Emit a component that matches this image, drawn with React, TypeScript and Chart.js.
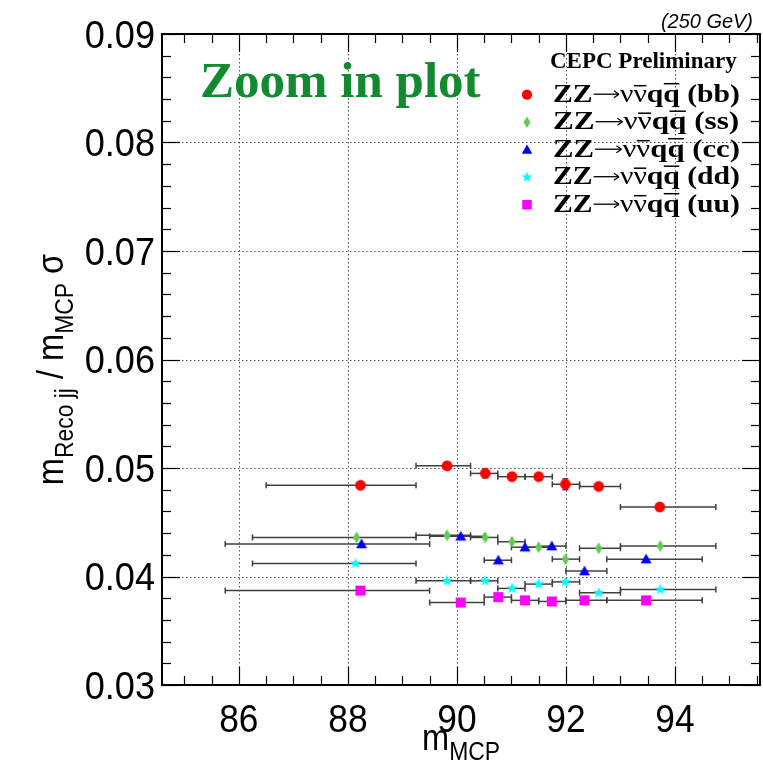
import React, { useEffect, useRef } from "react";
import { Chart, registerables } from "chart.js";

Chart.register(...registerables);

const W = 763;
const H = 764;

// ---- data ----
const bbX = [88.23, 89.82, 90.52, 91.01, 91.5, 91.99, 92.6, 93.72];
const bbY = [0.0484, 0.0502, 0.0495, 0.0492, 0.0492, 0.0485, 0.0483, 0.0464];
const bbXLo = [86.5, 89.25, 90.25, 90.75, 91.25, 91.75, 92.25, 93.0];
const bbXHi = [89.25, 90.25, 90.75, 91.25, 91.75, 92.25, 93.0, 94.75];
const bbYErr = [0.0002, 0.0002, 0.0004, 0.0002, 0.0002, 0.0005, 0.0002, 0.0002];

const ssX = [88.16, 89.82, 90.52, 91.01, 91.5, 91.99, 92.6, 93.73];
const ssY = [0.0436, 0.0438, 0.0436, 0.0432, 0.0427, 0.0416, 0.0426, 0.0428];
const ssXLo = [86.25, 89.25, 90.25, 90.75, 91.25, 91.75, 92.25, 93.0];
const ssXHi = [89.25, 90.25, 90.75, 91.25, 91.75, 92.25, 93.0, 94.75];

const ccX = [88.25, 90.07, 90.76, 91.25, 91.74, 92.34, 93.47];
const ccY = [0.043, 0.0437, 0.0415, 0.0427, 0.0428, 0.0405, 0.0416];
const ccXLo = [85.75, 89.5, 90.5, 91.0, 91.5, 92.0, 92.75];
const ccXHi = [89.5, 90.5, 91.0, 91.5, 92.0, 92.75, 94.5];

const ddX = [88.14, 89.82, 90.52, 91.01, 91.5, 91.99, 92.6, 93.73];
const ddY = [0.0412, 0.0396, 0.0396, 0.0389, 0.0393, 0.0395, 0.0385, 0.0388];
const ddXLo = [86.25, 89.25, 90.25, 90.75, 91.25, 91.75, 92.25, 93.0];
const ddXHi = [89.25, 90.25, 90.75, 91.25, 91.75, 92.25, 93.0, 94.75];

const uuX = [88.23, 90.07, 90.76, 91.25, 91.74, 92.34, 93.47];
const uuY = [0.0387, 0.0376, 0.0381, 0.0378, 0.0377, 0.0378, 0.0378];
const uuXLo = [85.75, 89.5, 90.5, 91.0, 91.5, 92.0, 92.75];
const uuXHi = [89.5, 90.5, 91.0, 91.5, 92.0, 92.75, 94.5];

const seriesTags = ["bb", "ss", "cc", "dd", "uu"];

const xMajorTicks = [86, 88, 90, 92, 94];
const xTickLabels = ["86", "88", "90", "92", "94"];
const yMajorTicks = [0.03, 0.04, 0.05, 0.06, 0.07, 0.08, 0.09];
const yTickLabels = ["0.03", "0.04", "0.05", "0.06", "0.07", "0.08", "0.09"];
const X_MIN = 84.59;
const X_MAX = 95.56;
const Y_MIN = 0.03;
const Y_MAX = 0.09;

const SANS = "'Liberation Sans', Arial, Helvetica, sans-serif";
const SERIF = "'Liberation Serif', 'Times New Roman', serif";

type Series = {
  tag: string;
  x: number[];
  y: number[];
  lo: number[];
  hi: number[];
  yErr?: number[];
  shape: string;
  color: string;
};

const series: Series[] = [
  { tag: seriesTags[0], x: bbX, y: bbY, lo: bbXLo, hi: bbXHi, yErr: bbYErr, shape: "circle", color: "#ff0000" },
  { tag: seriesTags[1], x: ssX, y: ssY, lo: ssXLo, hi: ssXHi, shape: "diamond", color: "#5fcc52" },
  { tag: seriesTags[2], x: ccX, y: ccY, lo: ccXLo, hi: ccXHi, shape: "triangle", color: "#0000ff" },
  { tag: seriesTags[3], x: ddX, y: ddY, lo: ddXLo, hi: ddXHi, shape: "star", color: "#00ffff" },
  { tag: seriesTags[4], x: uuX, y: uuY, lo: uuXLo, hi: uuXHi, shape: "square", color: "#ff00ff" },
];

function drawShape(g: CanvasRenderingContext2D, kind: string, cx: number, cy: number, k: number) {
  g.beginPath();
  if (kind === "circle") {
    g.arc(cx, cy, 5.4 * k, 0, Math.PI * 2);
  } else if (kind === "diamond") {
    g.moveTo(cx, cy - 6 * k);
    g.lineTo(cx + 3.6 * k, cy);
    g.lineTo(cx, cy + 6 * k);
    g.lineTo(cx - 3.6 * k, cy);
    g.closePath();
  } else if (kind === "triangle") {
    g.moveTo(cx, cy - 5.4 * k);
    g.lineTo(cx + 5.5 * k, cy + 4.3 * k);
    g.lineTo(cx - 5.5 * k, cy + 4.3 * k);
    g.closePath();
  } else if (kind === "star") {
    const ro = 6 * k;
    const ri = 2.5 * k;
    for (let i = 0; i < 10; i++) {
      const r = i % 2 === 0 ? ro : ri;
      const a = -Math.PI / 2 + (i * Math.PI) / 5;
      const px = cx + r * Math.cos(a);
      const py = cy + r * Math.sin(a);
      if (i === 0) g.moveTo(px, py);
      else g.lineTo(px, py);
    }
    g.closePath();
  } else {
    g.rect(cx - 5 * k, cy - 5 * k, 10 * k, 10 * k);
  }
  g.fill();
}

function makeMarker(kind: string, color: string): HTMLCanvasElement {
  const s = 16;
  const c = document.createElement("canvas");
  c.width = s;
  c.height = s;
  const g = c.getContext("2d")!;
  g.fillStyle = color;
  drawShape(g, kind, s / 2, s / 2, 1);
  return c;
}

function text(
  ctx: CanvasRenderingContext2D,
  s: string,
  x: number,
  y: number,
  font: string,
  align: CanvasTextAlign = "left",
  sx = 1,
  color = "#000"
) {
  ctx.save();
  ctx.font = font;
  ctx.fillStyle = color;
  ctx.textAlign = align;
  ctx.textBaseline = "alphabetic";
  ctx.translate(x, y);
  ctx.scale(sx, 1);
  ctx.fillText(s, 0, 0);
  ctx.restore();
}

function line(ctx: CanvasRenderingContext2D, x1: number, y1: number, x2: number, y2: number) {
  ctx.beginPath();
  ctx.moveTo(x1, y1);
  ctx.lineTo(x2, y2);
  ctx.stroke();
}

type Piece = { s: string; font: string; dy: number; over?: number; arrow?: number };

function pieceWidth(ctx: CanvasRenderingContext2D, p: Piece) {
  if (p.arrow !== undefined) return p.arrow;
  ctx.font = p.font;
  return ctx.measureText(p.s).width;
}

function drawPieces(ctx: CanvasRenderingContext2D, pieces: Piece[], sx: number) {
  let cur = 0;
  for (const p of pieces) {
    const w = pieceWidth(ctx, p) * sx;
    if (p.arrow !== undefined) {
      ctx.save();
      ctx.strokeStyle = "#000";
      ctx.lineWidth = 1.3;
      const yy = -7.5;
      line(ctx, cur + 1, yy, cur + w - 1, yy);
      line(ctx, cur + w - 6, yy - 3.5, cur + w - 1, yy);
      line(ctx, cur + w - 6, yy + 3.5, cur + w - 1, yy);
      ctx.restore();
    } else {
      ctx.font = p.font;
      ctx.save();
      ctx.translate(cur, p.dy);
      ctx.scale(sx, 1);
      ctx.fillText(p.s, 0, 0);
      ctx.restore();
      if (p.over !== undefined) {
        ctx.save();
        ctx.strokeStyle = "#000";
        ctx.lineWidth = 1.5;
        line(ctx, cur + 0.5, -p.over, cur + w - 0.5, -p.over);
        ctx.restore();
      }
    }
    cur += w;
  }
  return cur;
}

function piecesWidth(ctx: CanvasRenderingContext2D, pieces: Piece[]) {
  let w = 0;
  for (const p of pieces) w += pieceWidth(ctx, p);
  return w;
}

const decor = {
  id: "decor",
  beforeDatasetsDraw(chart: any) {
    const { ctx, chartArea: a } = chart;
    const x = chart.scales.x;
    const y = chart.scales.y;
    ctx.save();
    // dotted grid at major ticks
    ctx.strokeStyle = "#555";
    ctx.lineWidth = 1;
    ctx.setLineDash([1.5, 2.5]);
    for (const v of xMajorTicks) {
      const px = Math.round(x.getPixelForValue(v)) + 0.5;
      line(ctx, px, a.top, px, a.bottom);
    }
    for (const v of yMajorTicks) {
      const py = Math.round(y.getPixelForValue(v)) + 0.5;
      line(ctx, a.left, py, a.right, py);
    }
    ctx.setLineDash([]);
    // error bars
    ctx.strokeStyle = "#404040";
    ctx.lineWidth = 1.5;
    for (const s of series) {
      s.x.forEach((_, i) => {
        const py = y.getPixelForValue(s.y[i]);
        const x1 = x.getPixelForValue(s.lo[i]);
        const x2 = x.getPixelForValue(s.hi[i]);
        line(ctx, x1, py, x2, py);
        line(ctx, x1, py - 3, x1, py + 3);
        line(ctx, x2, py - 3, x2, py + 3);
        if (s.yErr && s.yErr[i] > 0) {
          const px = x.getPixelForValue(s.x[i]);
          const y1 = y.getPixelForValue(s.y[i] - s.yErr[i]);
          const y2 = y.getPixelForValue(s.y[i] + s.yErr[i]);
          line(ctx, px, y1, px, y2);
          line(ctx, px - 3, y1, px + 3, y1);
          line(ctx, px - 3, y2, px + 3, y2);
        }
      });
    }
    ctx.restore();
  },
  afterDatasetsDraw(chart: any) {
    const { ctx, chartArea: a } = chart;
    const x = chart.scales.x;
    const y = chart.scales.y;
    ctx.save();
    // frame
    ctx.strokeStyle = "#000";
    ctx.lineWidth = 2;
    ctx.strokeRect(a.left, a.top, a.right - a.left, a.bottom - a.top);
    // ticks
    ctx.lineWidth = 1.2;
    const MAJ = 18;
    const MIN = 9;
    for (let k = 0; k <= 21; k++) {
      const v = 85 + k * 0.5;
      if (v < X_MIN || v > X_MAX) continue;
      const isMaj = xMajorTicks.includes(v);
      const len = isMaj ? MAJ : MIN;
      const px = Math.round(x.getPixelForValue(v)) + 0.5;
      line(ctx, px, a.bottom, px, a.bottom - len);
      line(ctx, px, a.top, px, a.top + len);
    }
    for (let k = 0; k <= 30; k++) {
      const v = Y_MIN + k * 0.002;
      const isMaj = k % 5 === 0;
      const len = isMaj ? MAJ : MIN;
      const py = Math.round(y.getPixelForValue(v)) + 0.5;
      line(ctx, a.left, py, a.left + len, py);
      line(ctx, a.right, py, a.right - len, py);
    }
    // tick labels
    const tickFont = `38px ${SANS}`;
    xMajorTicks.forEach((v, i) => {
      text(ctx, xTickLabels[i], x.getPixelForValue(v), 732, tickFont, "center", 0.93);
    });
    yMajorTicks.forEach((v, i) => {
      text(ctx, yTickLabels[i], 155, y.getPixelForValue(v) + 13.5, tickFont, "right", 0.95);
    });

    // x title
    const big = `37px ${SANS}`;
    const small = `26px ${SANS}`;
    const xt: Piece[] = [
      { s: "m", font: big, dy: 0 },
      { s: "MCP", font: small, dy: 10 },
    ];
    const sxT = 0.88;
    ctx.fillStyle = "#000";
    const xtw = piecesWidth(ctx, xt) * sxT;
    ctx.save();
    ctx.translate((a.left + a.right) / 2 - xtw / 2, 750);
    drawPieces(ctx, xt, sxT);
    ctx.restore();

    // y title
    const yt: Piece[] = [
      { s: "m", font: big, dy: 0 },
      { s: "Reco jj", font: small, dy: 10 },
      { s: " / m", font: big, dy: 0 },
      { s: "MCP", font: small, dy: 10 },
      { s: " \u03c3", font: big, dy: 0 },
    ];
    const ytw = piecesWidth(ctx, yt) * sxT;
    ctx.save();
    ctx.translate(63, (a.top + a.bottom) / 2 + 10);
    ctx.rotate(-Math.PI / 2);
    ctx.translate(-ytw / 2, 0);
    drawPieces(ctx, yt, sxT);
    ctx.restore();

    // top-right energy label
    text(ctx, "(250 GeV)", 753, 28, `italic 21px ${SANS}`, "right", 0.95);

    // Zoom in plot
    text(ctx, "Zoom in plot", 200, 97, `bold 51px ${SERIF}`, "left", 1, "#138a2f");

    // legend header
    text(ctx, "CEPC Preliminary", 550, 68, `bold 23px ${SERIF}`, "left", 1);

    // legend entries
    const bold = `bold 26px ${SERIF}`;
    const reg = `26px ${SERIF}`;
    series.forEach((s, i) => {
      const base = 101.7 + i * 27.5;
      ctx.fillStyle = s.color;
      drawShape(ctx, s.shape, 527, base - 7, 0.95);
      ctx.fillStyle = "#000";
      const pcs: Piece[] = [
        { s: "ZZ", font: bold, dy: 0 },
        { s: "", font: reg, dy: 0, arrow: 24 },
        { s: "\u03bd", font: reg, dy: 0 },
        { s: "\u03bd", font: reg, dy: 0, over: 16 },
        { s: "q", font: bold, dy: 0 },
        { s: "q", font: bold, dy: 0, over: 18 },
        { s: " (" + s.tag + ")", font: bold, dy: 0 },
      ];
      const nat = piecesWidth(ctx, pcs);
      let sx = 187 / nat;
      sx = Math.max(0.85, Math.min(1.2, sx));
      ctx.save();
      ctx.translate(553, base);
      drawPieces(ctx, pcs, sx);
      ctx.restore();
    });
    ctx.restore();
  },
};

export default function App() {
  const ref = useRef<HTMLCanvasElement | null>(null);
  useEffect(() => {
    const canvas = ref.current;
    if (!canvas) return;
    const datasets = series.map((s) => ({
      label: s.tag,
      data: s.x.map((xv, i) => ({ x: xv, y: s.y[i] })),
      pointStyle: makeMarker(s.shape, s.color) as any,
      pointRadius: 6,
      showLine: false,
      backgroundColor: s.color,
      borderColor: s.color,
    }));
    const chart = new Chart(canvas, {
      type: "scatter",
      data: { datasets },
      options: {
        responsive: false,
        animation: false,
        devicePixelRatio: 1,
        events: [],
        layout: { autoPadding: false, padding: { left: 0, right: W - 760, top: 34, bottom: 0 } },
        plugins: { legend: { display: false }, tooltip: { enabled: false } },
        scales: {
          x: {
            type: "linear",
            min: X_MIN,
            max: X_MAX,
            grid: { display: false },
            border: { display: false },
            ticks: { display: false },
            afterFit: (s: any) => {
              s.height = H - 685;
            },
          },
          y: {
            type: "linear",
            min: Y_MIN,
            max: Y_MAX,
            grid: { display: false },
            border: { display: false },
            ticks: { display: false },
            afterFit: (s: any) => {
              s.width = 162;
            },
          },
        },
      } as any,
      plugins: [decor],
    });
    return () => chart.destroy();
  }, []);
  return (
    <div style={{ position: "absolute", left: 0, top: 0, width: W, height: H, background: "#fff" }}>
      <canvas ref={ref} width={W} height={H} style={{ display: "block" }} />
    </div>
  );
}
